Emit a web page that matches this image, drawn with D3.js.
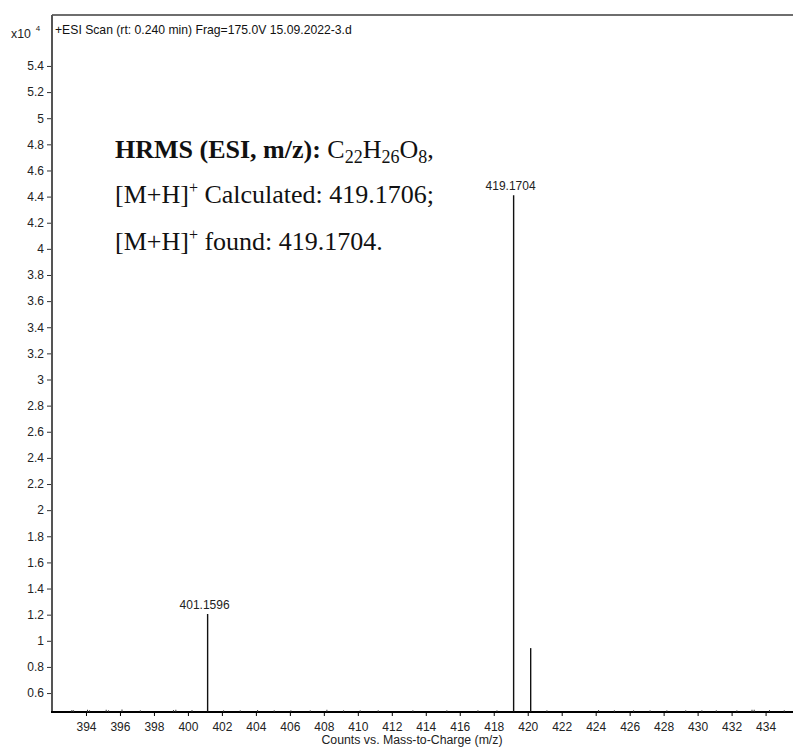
<!DOCTYPE html>
<html>
<head>
<meta charset="utf-8">
<script src="https://cdn.jsdelivr.net/npm/d3@7"></script>
<style>
  body { margin: 0; background: #fff; }
  svg { display: block; }
  .tick text { font-family: "Liberation Sans", Arial, sans-serif; font-size: 12px; fill: #222; }
</style>
</head>
<body>
<svg id="chart" width="793" height="747"></svg>
<script>
// spectrum data, intensity in units of x10^4 counts
const peakMz = [401.1596, 419.1704, 420.1738];
const peakInt = [1.205, 4.41, 0.944];
const peakLabels = ["401.1596", "419.1704", ""];

// small baseline noise peaks
const noiseMz = [393.17, 393.27, 394.09, 394.21, 395.19, 395.33, 396.12, 397.2, 399.15, 399.29,
  400.24, 402.10, 403.08, 404.10, 405.08, 406.06, 407.20, 408.18, 409.16, 410.14, 411.2,
  413.24, 415.24, 417.07, 418.19, 421.13, 424.17, 425.1, 426.23, 427.2, 428.19, 429.3,
  430.25, 431.1, 432.31, 433.2, 433.33, 434.23, 435.10];
const noiseInt = [0.47, 0.468, 0.472, 0.468, 0.472, 0.468, 0.474, 0.468, 0.47, 0.472,
  0.47, 0.468, 0.468, 0.47, 0.468, 0.468, 0.468, 0.472, 0.468, 0.468, 0.468,
  0.468, 0.468, 0.468, 0.468, 0.468, 0.47, 0.468, 0.468, 0.468, 0.468, 0.468,
  0.468, 0.468, 0.468, 0.472, 0.472, 0.47, 0.468];

const xTicks = [394, 396, 398, 400, 402, 404, 406, 408, 410, 412, 414, 416, 418, 420,
  422, 424, 426, 428, 430, 432, 434];
const yTicks = [0.6, 0.8, 1, 1.2, 1.4, 1.6, 1.8, 2, 2.2, 2.4, 2.6, 2.8, 3, 3.2, 3.4, 3.6,
  3.8, 4, 4.2, 4.4, 4.6, 4.8, 5, 5.2, 5.4];

const titleText = "+ESI Scan (rt: 0.240 min) Frag=175.0V 15.09.2022-3.d";
const xLabel = "Counts vs. Mass-to-Charge (m/z)";

const svg = d3.select('#chart');
const plotLeft = 52, plotTop = 15, plotBottom = 712;

const x = d3.scaleLinear().domain([392, 436]).range([plotLeft, plotLeft + 44 * 16.99]);
const y = d3.scaleLinear().domain([0.455, 5.79]).range([plotBottom, plotTop]);
const yBase = y.domain()[0];

// y axis
const yAxis = svg.append('g')
  .attr('transform', `translate(${plotLeft},0)`)
  .call(d3.axisLeft(y).tickValues(yTicks).tickSize(5).tickPadding(3)
    .tickFormat(d => String(+d.toFixed(1))));
yAxis.select('.domain').remove();
yAxis.selectAll('.tick line').attr('stroke', '#333');

// x axis
const xAxis = svg.append('g')
  .attr('transform', `translate(0,${plotBottom})`)
  .call(d3.axisBottom(x).tickValues(xTicks).tickSize(4).tickPadding(6).tickFormat(d3.format('d')));
xAxis.select('.domain').remove();
xAxis.selectAll('.tick line').attr('stroke', '#000');

// frame
svg.append('line')
  .attr('x1', plotLeft).attr('x2', 793).attr('y1', plotTop).attr('y2', plotTop)
  .attr('stroke', '#6e6e6e').attr('stroke-width', 2);
svg.append('line')
  .attr('x1', plotLeft).attr('x2', plotLeft).attr('y1', plotTop).attr('y2', plotBottom)
  .attr('stroke', '#555').attr('stroke-width', 2);
svg.append('line')
  .attr('x1', plotLeft - 1).attr('x2', 793).attr('y1', plotBottom).attr('y2', plotBottom)
  .attr('stroke', '#000').attr('stroke-width', 2);

// noise
svg.append('g').selectAll('line')
  .data(noiseMz.map((m, i) => [m, noiseInt[i]]))
  .join('line')
  .attr('x1', d => x(d[0])).attr('x2', d => x(d[0]))
  .attr('y1', y(yBase)).attr('y2', d => y(d[1]))
  .attr('stroke', '#333').attr('stroke-width', 1);

// peaks
const peaks = peakMz.map((m, i) => ({ mz: m, v: peakInt[i], label: peakLabels[i] }));
svg.append('g').selectAll('line')
  .data(peaks)
  .join('line')
  .attr('x1', d => x(d.mz)).attr('x2', d => x(d.mz))
  .attr('y1', y(yBase)).attr('y2', d => y(d.v))
  .attr('stroke', '#111').attr('stroke-width', 1.4);

svg.append('g').selectAll('text')
  .data(peaks.filter(d => d.label))
  .join('text')
  .attr('x', d => x(d.mz) - 3)
  .attr('y', d => y(d.v) - 5)
  .attr('text-anchor', 'middle')
  .style('font-family', '"Liberation Sans", Arial, sans-serif')
  .style('font-size', '12px')
  .attr('fill', '#222')
  .text(d => d.label);

// title and axis labels
svg.append('text')
  .attr('x', 55).attr('y', 34)
  .style('font-family', '"Liberation Sans", Arial, sans-serif')
  .style('font-size', '12.2px')
  .attr('fill', '#111')
  .text(titleText);

const mult = svg.append('text')
  .attr('x', 11).attr('y', 37.5)
  .style('font-family', '"Liberation Sans", Arial, sans-serif')
  .style('font-size', '12.3px')
  .attr('fill', '#222');
mult.append('tspan').text('x10');
mult.append('tspan').attr('dx', 5).attr('dy', -7).style('font-size', '8px').text('4');

svg.append('text')
  .attr('x', 412).attr('y', 744)
  .attr('text-anchor', 'middle')
  .style('font-family', '"Liberation Sans", Arial, sans-serif')
  .style('font-size', '12.3px')
  .attr('fill', '#222')
  .text(xLabel);

// HRMS annotation
const serif = '"Liberation Serif", "Times New Roman", serif';
const l1 = svg.append('text').attr('x', 115).attr('y', 158)
  .style('font-family', serif).style('font-size', '26px').attr('fill', '#111');
l1.append('tspan').attr('font-weight', 'bold').text('HRMS (ESI, m/z):');
l1.append('tspan').text('\u00a0C');
[['22', 'H'], ['26', 'O'], ['8', ',']].forEach(([sub, next]) => {
  l1.append('tspan').attr('dy', 5).style('font-size', '18px').text(sub);
  l1.append('tspan').attr('dy', -5).text(next);
});

function mhLine(yPos, rest) {
  const t = svg.append('text').attr('x', 115).attr('y', yPos)
    .style('font-family', serif).style('font-size', '26px').attr('fill', '#111');
  t.append('tspan').text('[M+H]');
  t.append('tspan').attr('dy', -10).style('font-size', '16px').text('+');
  t.append('tspan').attr('dy', 10).text(rest);
}
mhLine(203, '\u00a0Calculated: 419.1706;');
mhLine(250, '\u00a0found: 419.1704.');
</script>
</body>
</html>
